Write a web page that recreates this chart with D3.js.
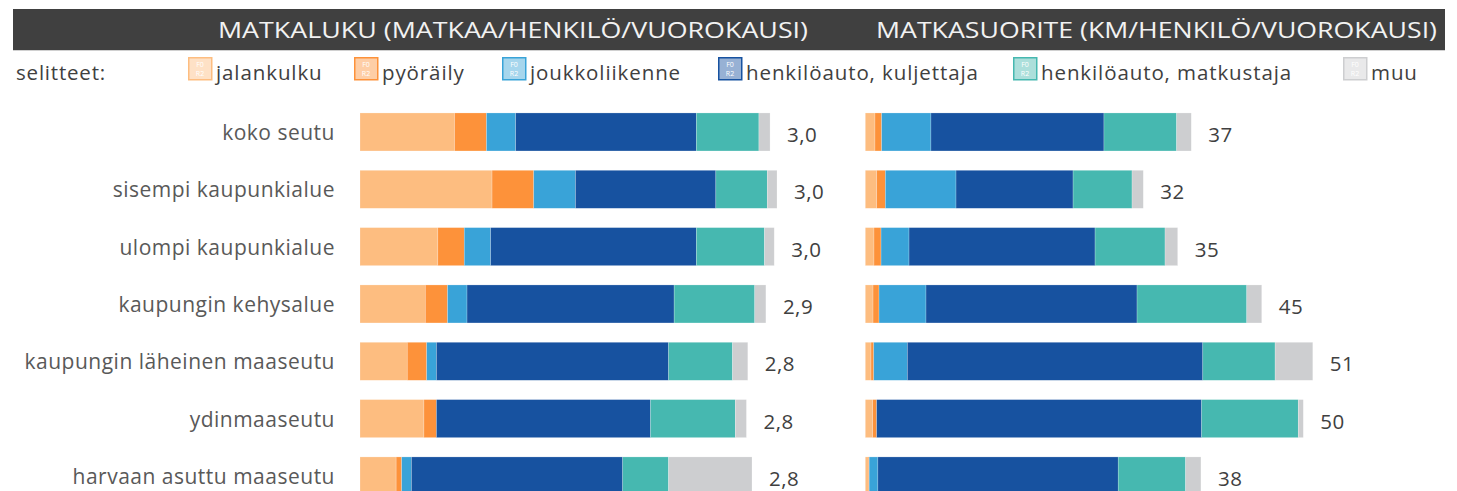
<!DOCTYPE html>
<html lang="fi">
<head>
  <meta charset="UTF-8">
  <title>Matkaluku ja matkasuorite</title>
  <style>
    body { margin: 0; background: #fff; }
    svg { display: block; font-family: "Open Sans", Lato, sans-serif; }
  </style>
</head>
<body>
  <svg id="chart"></svg>
  <script src="https://cdn.jsdelivr.net/npm/d3@7"></script>
  <script>
    var categories = ["koko seutu", "sisempi kaupunkialue", "ulompi kaupunkialue", "kaupungin kehysalue",
      "kaupungin läheinen maaseutu", "ydinmaaseutu", "harvaan asuttu maaseutu"];
    var seriesNames = ["jalankulku", "pyöräily", "joukkoliikenne", "henkilöauto, kuljettaja", "henkilöauto, matkustaja", "muu"];
    var seriesColors = ["#fdbd80", "#fd923a", "#39a3d8", "#1752a0", "#46b8b0", "#cdced0"];

    // matkaa / henkilö / vuorokausi
    var tripsJalankulku = [0.68, 0.95, 0.56, 0.47, 0.34, 0.46, 0.26];
    var tripsPyoraily = [0.23, 0.30, 0.19, 0.16, 0.14, 0.09, 0.04];
    var tripsJoukko = [0.21, 0.30, 0.19, 0.14, 0.07, 0.00, 0.07];
    var tripsKuljettaja = [1.30, 1.01, 1.48, 1.49, 1.67, 1.54, 1.52];
    var tripsMatkustaja = [0.45, 0.37, 0.49, 0.58, 0.46, 0.61, 0.33];
    var tripsMuu = [0.08, 0.07, 0.07, 0.08, 0.11, 0.08, 0.60];
    var tripsTotals = ["3,0", "3,0", "3,0", "2,9", "2,8", "2,8", "2,8"];

    // km / henkilö / vuorokausi
    var kmJalankulku = [1.10, 1.30, 0.99, 0.88, 0.65, 0.84, 0.34];
    var kmPyoraily = [0.76, 0.98, 0.80, 0.68, 0.31, 0.45, 0.10];
    var kmJoukko = [5.60, 8.03, 3.18, 5.34, 3.82, 0.00, 0.99];
    var kmKuljettaja = [19.66, 13.30, 21.14, 23.98, 33.57, 36.93, 27.31];
    var kmMatkustaja = [8.26, 6.70, 7.95, 12.47, 8.22, 10.98, 7.66];
    var kmMuu = [1.66, 1.28, 1.44, 1.70, 4.28, 0.57, 1.74];
    var kmTotals = ["37", "32", "35", "45", "51", "50", "38"];

    var width = 1457, height = 491;
    var svg = d3.select("#chart").attr("width", width).attr("height", height);

    function toRows(arrs) {
      return categories.map(function (c, i) {
        var row = { cat: c };
        seriesNames.forEach(function (s, j) { row[s] = arrs[j][i]; });
        return row;
      });
    }
    var tripRows = toRows([tripsJalankulku, tripsPyoraily, tripsJoukko, tripsKuljettaja, tripsMatkustaja, tripsMuu]);
    var kmRows = toRows([kmJalankulku, kmPyoraily, kmJoukko, kmKuljettaja, kmMatkustaja, kmMuu]);

    var y = d3.scaleBand()
      .domain(categories)
      .range([103.3, 504.6])
      .paddingInner(0.337)
      .paddingOuter(0.1685);

    var xLeft = d3.scaleLinear().domain([0, 3.3]).range([360, 360 + 3.3 * 139]);
    var xRight = d3.scaleLinear().domain([0, 60]).range([865.3, 865.3 + 60 * 8.8]);

    var color = d3.scaleOrdinal().domain(seriesNames).range(seriesColors);
    var stack = d3.stack().keys(seriesNames);

    // header
    svg.append("rect").attr("x", 13).attr("y", 9).attr("width", 1432).attr("height", 41).attr("fill", "#404040");
    svg.append("line").attr("x1", 13).attr("x2", 1445).attr("y1", 50.5).attr("y2", 50.5).attr("stroke", "#d0d0d0");
    svg.append("text").attr("x", 218).attr("y", 38)
      .attr("fill", "#f2f2f2").attr("font-size", 21.5)
      .attr("textLength", 590).attr("lengthAdjust", "spacingAndGlyphs")
      .text("MATKALUKU (MATKAA/HENKILÖ/VUOROKAUSI)");
    svg.append("text").attr("x", 876).attr("y", 38)
      .attr("fill", "#f2f2f2").attr("font-size", 21.5)
      .attr("textLength", 561).attr("lengthAdjust", "spacingAndGlyphs")
      .text("MATKASUORITE (KM/HENKILÖ/VUOROKAUSI)");

    // legend
    svg.append("text").attr("x", 16).attr("y", 80).attr("fill", "#404040")
      .attr("font-size", 20.5).attr("letter-spacing", 0.8).text("selitteet:");
    var legendX = [188, 354, 502, 718, 1013, 1343];
    var legend = svg.selectAll(".legend")
      .data(seriesNames)
      .enter()
      .append("g")
      .attr("class", "legend")
      .attr("transform", function (d, i) { return "translate(" + legendX[i] + ",57)"; });
    legend.append("rect")
      .attr("x", 0.75).attr("y", 0.75).attr("width", 23).attr("height", 22)
      .attr("fill", function (d) { return d3.interpolateRgb(color(d), "#fff")(0.55); })
      .attr("stroke", function (d) { return color(d); })
      .attr("stroke-width", 1.5);
    legend.append("text").attr("x", 12).attr("y", 10).attr("text-anchor", "middle")
      .attr("font-size", 7).attr("fill", "#fff").text("F0");
    legend.append("text").attr("x", 12).attr("y", 19).attr("text-anchor", "middle")
      .attr("font-size", 7).attr("fill", "#fff").text("R2");
    legend.append("text")
      .attr("x", 28).attr("y", 23)
      .attr("fill", "#404040").attr("font-size", 20.5).attr("letter-spacing", 0.9)
      .text(function (d) { return d; });

    // category labels
    svg.selectAll(".cat")
      .data(categories)
      .enter()
      .append("text")
      .attr("class", "cat")
      .attr("x", 335)
      .attr("y", function (d) { return y(d) + y.bandwidth() / 2 + 8; })
      .attr("text-anchor", "end")
      .attr("fill", "#595959")
      .attr("font-size", 21)
      .attr("letter-spacing", 0.5)
      .text(function (d) { return d; });

    function drawPanel(rows, x, totals) {
      var layers = svg.append("g").selectAll("g")
        .data(stack(rows))
        .enter()
        .append("g")
        .attr("fill", function (d) { return color(d.key); });

      layers.selectAll("rect")
        .data(function (d) { return d; })
        .enter()
        .append("rect")
        .attr("x", function (d) { return x(d[0]); })
        .attr("y", function (d) { return y(d.data.cat); })
        .attr("width", function (d) { return x(d[1]) - x(d[0]); })
        .attr("height", y.bandwidth())
        .attr("stroke", "#fff")
        .attr("stroke-opacity", 0.35)
        .attr("stroke-width", 0.6);

      svg.append("g").selectAll("text")
        .data(rows)
        .enter()
        .append("text")
        .attr("x", function (d) {
          var sum = d3.sum(seriesNames, function (s) { return d[s]; });
          return x(sum) + 17;
        })
        .attr("y", function (d) { return y(d.cat) + y.bandwidth() / 2 + 10; })
        .attr("fill", "#404040")
        .attr("font-size", 20.5)
        .attr("letter-spacing", 0.5)
        .text(function (d, i) { return totals[i]; });
    }

    drawPanel(tripRows, xLeft, tripsTotals);
    drawPanel(kmRows, xRight, kmTotals);
  </script>
</body>
</html>
